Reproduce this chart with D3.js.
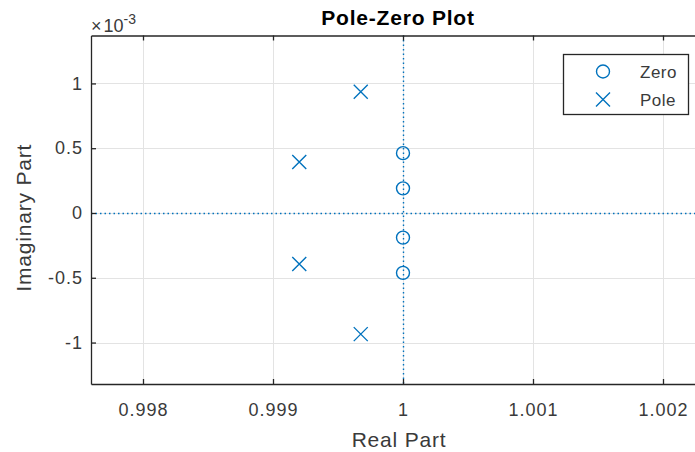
<!DOCTYPE html>
<html>
<head>
<meta charset="utf-8">
<script src="https://cdn.jsdelivr.net/npm/d3@7"></script>
<style>
  html, body { margin: 0; padding: 0; background: #fff; }
  svg { display: block; font-family: "Liberation Sans", Arial, Helvetica, sans-serif; }
</style>
</head>
<body>
<svg id="chart" width="695" height="452"></svg>
<script>
// Pole and zero locations (real part, imaginary part)
const zeroReal = [1, 1, 1, 1];
const zeroImag = [0.462e-3, 0.19e-3, -0.19e-3, -0.462e-3];
const poleReal = [0.999675, 0.999202, 0.999202, 0.999675];
const poleImag = [0.935e-3, 0.393e-3, -0.393e-3, -0.935e-3];

// Axis ticks and their labels
const xTicks = [0.998, 0.999, 1, 1.001, 1.002];
const xTickLabels = ["0.998", "0.999", "1", "1.001", "1.002"];
const yTicks = [-1e-3, -0.5e-3, 0, 0.5e-3, 1e-3];
const yTickLabels = ["-1", "-0.5", "0", "0.5", "1"];

const xLimits = [0.9976, 1.0024];
const yLimits = [-1.32e-3, 1.37e-3];

const blue = "#0072BD";
const axisColor = "#262626";
const textColor = "#3a3a3a";
const gridColor = "#e3e3e3";

const svg = d3.select("#chart");
const plot = { left: 91, right: 715, top: 35.5, bottom: 384 };

const x = d3.scaleLinear().domain(xLimits).range([plot.left, plot.right]);
const y = d3.scaleLinear().domain(yLimits).range([plot.bottom, plot.top]);
const px = v => Math.round(v) + 0.5;

// Grid
const grid = svg.append("g");
grid.selectAll("line.gx").data(xTicks).join("line")
  .attr("x1", d => px(x(d))).attr("x2", d => px(x(d)))
  .attr("y1", plot.top).attr("y2", plot.bottom)
  .attr("stroke", gridColor).attr("stroke-width", 1);
grid.selectAll("line.gy").data(yTicks).join("line")
  .attr("x1", plot.left).attr("x2", plot.right)
  .attr("y1", d => px(y(d))).attr("y2", d => px(y(d)))
  .attr("stroke", gridColor).attr("stroke-width", 1);

// Dotted reference lines through the real and imaginary axes
svg.append("line")
  .attr("x1", plot.left).attr("x2", plot.right)
  .attr("y1", px(y(0))).attr("y2", px(y(0)))
  .attr("stroke", blue).attr("stroke-width", 1.4)
  .attr("stroke-dasharray", "1.5,3");
svg.append("line")
  .attr("x1", px(x(1))).attr("x2", px(x(1)))
  .attr("y1", plot.top).attr("y2", plot.bottom)
  .attr("stroke", blue).attr("stroke-width", 1.4)
  .attr("stroke-dasharray", "1.5,3");

// Axes
const styleTickText = sel => sel.attr("fill", textColor).attr("font-size", 18)
  .attr("letter-spacing", 1).attr("font-family", "Liberation Sans, Arial, sans-serif");

const xAxis = d3.axisBottom(x).tickValues(xTicks)
  .tickFormat((d, i) => xTickLabels[i]).tickSizeInner(-5).tickSizeOuter(0).tickPadding(19);
const gx = svg.append("g").attr("transform", `translate(0,${plot.bottom})`).call(xAxis);
gx.select(".domain").attr("stroke", axisColor).attr("stroke-width", 1.3);
gx.selectAll(".tick line").attr("stroke", axisColor).attr("stroke-width", 1.3);
gx.selectAll(".tick text").call(styleTickText);

const xAxisTop = d3.axisTop(x).tickValues(xTicks).tickFormat("").tickSizeInner(-5).tickSizeOuter(0);
const gxt = svg.append("g").attr("transform", `translate(0,${plot.top})`).call(xAxisTop);
gxt.select(".domain").attr("stroke", axisColor).attr("stroke-width", 1.3);
gxt.selectAll(".tick line").attr("stroke", axisColor).attr("stroke-width", 1.3);

const yAxis = d3.axisLeft(y).tickValues(yTicks)
  .tickFormat((d, i) => yTickLabels[i]).tickSizeInner(-5).tickSizeOuter(0).tickPadding(8);
const gy = svg.append("g").attr("transform", `translate(${plot.left},0)`).call(yAxis);
gy.select(".domain").attr("stroke", axisColor).attr("stroke-width", 1.3);
gy.selectAll(".tick line").attr("stroke", axisColor).attr("stroke-width", 1.3);
gy.selectAll(".tick text").call(styleTickText);

// Exponent label for the imaginary axis
const expo = svg.append("text").attr("x", plot.left).attr("y", 32)
  .attr("fill", textColor).attr("font-size", 18);
expo.append("tspan").text("\u00d7");
expo.append("tspan").attr("dx", 2).text("10");
expo.append("tspan").attr("font-size", 14).attr("dy", -8).text("-3");

// Zeros
svg.append("g").selectAll("circle").data(zeroReal).join("circle")
  .attr("cx", d => x(d)).attr("cy", (d, i) => y(zeroImag[i])).attr("r", 6.5)
  .attr("fill", "none").attr("stroke", blue).attr("stroke-width", 1.4);

// Poles
const cross = s => `M${-s},${-s}L${s},${s}M${-s},${s}L${s},${-s}`;
svg.append("g").selectAll("path").data(poleReal).join("path")
  .attr("transform", (d, i) => `translate(${x(d)},${y(poleImag[i])})`)
  .attr("d", cross(7))
  .attr("fill", "none").attr("stroke", blue).attr("stroke-width", 1.4);

// Title and axis labels
svg.append("text").attr("x", 398).attr("y", 25).attr("text-anchor", "middle")
  .attr("font-weight", "bold").attr("font-size", 21).attr("letter-spacing", 0.8).attr("fill", "#000")
  .text("Pole-Zero Plot");
svg.append("text").attr("x", 399).attr("y", 447).attr("text-anchor", "middle")
  .attr("font-size", 21).attr("letter-spacing", 0.8).attr("fill", textColor).text("Real Part");
svg.append("text").attr("transform", `translate(31,${(plot.top + plot.bottom) / 2 + 8}) rotate(-90)`)
  .attr("text-anchor", "middle").attr("font-size", 21).attr("letter-spacing", 0.8).attr("fill", textColor)
  .text("Imaginary Part");

// Legend
const legend = svg.append("g");
legend.append("rect").attr("x", 563.5).attr("y", 54.5).attr("width", 125).attr("height", 60)
  .attr("fill", "#fff").attr("stroke", axisColor).attr("stroke-width", 1.3);
legend.append("circle").attr("cx", 603).attr("cy", 71.5).attr("r", 6.5)
  .attr("fill", "none").attr("stroke", blue).attr("stroke-width", 1.4);
legend.append("path").attr("transform", "translate(603,99.5)").attr("d", cross(7))
  .attr("fill", "none").attr("stroke", blue).attr("stroke-width", 1.4);
legend.append("text").attr("x", 640).attr("y", 78).attr("font-size", 17).attr("letter-spacing", 0.5)
  .attr("fill", textColor).text("Zero");
legend.append("text").attr("x", 640).attr("y", 106).attr("font-size", 17).attr("letter-spacing", 0.5)
  .attr("fill", textColor).text("Pole");
</script>
</body>
</html>
